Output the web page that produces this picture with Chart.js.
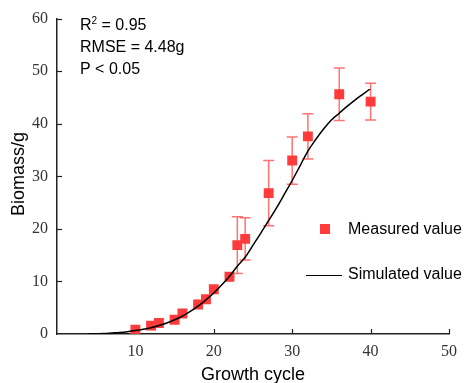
<!DOCTYPE html>
<html>
<head>
<meta charset="utf-8">
<script src="https://cdn.jsdelivr.net/npm/chart.js@4.4.1/dist/chart.umd.min.js"></script>
<style>
  html, body { margin: 0; padding: 0; background: #fff; }
  #wrap { width: 465px; height: 383px; position: relative; }
</style>
</head>
<body>
<div id="wrap"><canvas id="growthChart" width="465" height="383"></canvas></div>
<script>
// measured biomass (g) with error bars
const measuredX = [10, 12, 13, 15, 16, 18, 19, 20, 22, 23, 24, 27, 30, 32, 36, 40];
const measuredY = [0.8, 1.6, 2.1, 2.7, 3.9, 5.6, 6.6, 8.5, 10.9, 16.9, 18.1, 26.8, 33.0, 37.6, 45.6, 44.2];
const measuredErr = [0.3, 0.4, 0.4, 0.4, 0.5, 0.6, 0.6, 0.8, 0.9, 5.4, 4.0, 6.2, 4.5, 4.3, 5.0, 3.5];

// simulated curve
const simX = [4, 5, 6, 7, 8, 9, 10, 11, 12, 13, 14, 15, 16, 17, 18, 19, 20, 21, 22,
              23, 24, 25, 26, 27, 28, 29, 30, 31, 32, 33, 34, 35, 36, 37, 38, 39, 40];
const simY = [0, 0.05, 0.1, 0.2, 0.3, 0.45, 0.65, 0.9, 1.2, 1.6, 2.1, 2.7, 3.4, 4.3, 5.3, 6.5, 7.8, 9.3, 11.0,
              12.9, 14.6, 16.9, 19.2, 21.6, 24.0, 26.6, 29.2, 32.0, 34.8, 37.0, 39.0, 40.7, 42.0, 43.3, 44.5, 45.6, 46.7];

const xTicks = [0, 10, 20, 30, 40, 50];
const yTicks = [0, 10, 20, 30, 40, 50, 60];
const statLines = ['R\u00B2 = 0.95', 'RMSE = 4.48g', 'P < 0.05'];
const legendLabels = ['Measured value', 'Simulated value'];

const red = '#ff3b3b';
const redLight = 'rgba(255, 80, 80, 0.8)';
const sans = '"Liberation Sans", Arial, sans-serif';
const serif = '"Liberation Serif", "Times New Roman", serif';

let errorBars = {
    id: 'errorBars',
    beforeDatasetsDraw: function (chart) {
        let ctx = chart.ctx;
        let x = chart.scales.x, y = chart.scales.y;
        ctx.save();
        // inward tick marks
        ctx.strokeStyle = '#222';
        ctx.lineWidth = 1.2;
        xTicks.forEach(function (v) {
            if (v === 0) return;
            let px = Math.round(x.getPixelForValue(v)) + 0.5;
            ctx.beginPath();
            ctx.moveTo(px, y.bottom);
            ctx.lineTo(px, y.bottom - 5);
            ctx.stroke();
        });
        yTicks.forEach(function (v) {
            if (v === 0) return;
            let py = Math.round(y.getPixelForValue(v)) + 0.5;
            ctx.beginPath();
            ctx.moveTo(x.left, py);
            ctx.lineTo(x.left + 5, py);
            ctx.stroke();
        });
        // error bars
        ctx.strokeStyle = redLight;
        ctx.lineWidth = 1.5;
        for (let i = 0; i < measuredX.length; i++) {
            let px = x.getPixelForValue(measuredX[i]);
            let top = y.getPixelForValue(measuredY[i] + measuredErr[i]);
            let bot = y.getPixelForValue(measuredY[i] - measuredErr[i]);
            ctx.beginPath();
            ctx.moveTo(px, top);
            ctx.lineTo(px, bot);
            if (measuredErr[i] > 1) {
                ctx.moveTo(px - 5.5, top);
                ctx.lineTo(px + 5.5, top);
                ctx.moveTo(px - 5.5, bot);
                ctx.lineTo(px + 5.5, bot);
            }
            ctx.stroke();
        }
        ctx.restore();
    },
    afterDraw: function (chart) {
        let ctx = chart.ctx;
        ctx.save();
        ctx.fillStyle = '#000';
        ctx.textBaseline = 'middle';
        ctx.textAlign = 'left';
        // stats text
        ctx.font = '16px ' + sans;
        ctx.fillText('R', 80, 26);
        let rw = ctx.measureText('R').width;
        ctx.font = '10px ' + sans;
        ctx.fillText('2', 80 + rw, 21);
        let sw = ctx.measureText('2').width;
        ctx.font = '16px ' + sans;
        ctx.fillText(' = 0.95', 80 + rw + sw, 26);
        ctx.fillText(statLines[1], 80, 48);
        ctx.fillText(statLines[2], 80, 70);
        // legend
        ctx.fillStyle = red;
        ctx.fillRect(320, 224, 10, 10);
        ctx.fillStyle = '#000';
        ctx.fillText(legendLabels[0], 348, 230);
        ctx.strokeStyle = '#000';
        ctx.lineWidth = 1;
        ctx.beginPath();
        ctx.moveTo(306, 275.5);
        ctx.lineTo(342, 275.5);
        ctx.stroke();
        ctx.fillText(legendLabels[1], 348, 275);
        // axis titles
        ctx.font = '18px ' + sans;
        ctx.textAlign = 'center';
        ctx.fillText('Growth cycle', 253, 375);
        ctx.translate(19, 174);
        ctx.rotate(-Math.PI / 2);
        ctx.fillText('Biomass/g', 0, 0);
        ctx.restore();
    }
};

let ctx = document.getElementById('growthChart').getContext('2d');
window.growthChart = new Chart(ctx, {
    type: 'scatter',
    data: {
        datasets: [{
            label: legendLabels[1],
            type: 'line',
            data: simX.map(function (v, i) { return { x: v, y: simY[i] }; }),
            borderColor: '#000',
            borderWidth: 1.5,
            pointRadius: 0,
            fill: false,
            cubicInterpolationMode: 'monotone',
            order: 1
        }, {
            label: legendLabels[0],
            data: measuredX.map(function (v, i) { return { x: v, y: measuredY[i] }; }),
            backgroundColor: red,
            borderColor: red,
            borderWidth: 0,
            pointStyle: 'rect',
            pointRadius: 7,
            order: 2
        }]
    },
    options: {
        responsive: false,
        animation: false,
        layout: { padding: { left: 0, right: 15, top: 17, bottom: 0 } },
        plugins: {
            legend: { display: false },
            tooltip: { enabled: false }
        },
        scales: {
            x: {
                type: 'linear',
                min: 0,
                max: 50,
                afterFit: function (scale) { scale.height = 49; },
                afterBuildTicks: function (scale) {
                    scale.ticks = xTicks.map(function (v) { return { value: v }; });
                },
                grid: { display: false, drawTicks: false },
                border: { display: true, color: '#222', width: 1.5 },
                ticks: {
                    padding: 8,
                    color: '#333',
                    font: { family: serif, size: 16 },
                    callback: function (v) { return v === 0 ? '' : v; }
                }
            },
            y: {
                type: 'linear',
                min: 0,
                max: 60,
                afterFit: function (scale) { scale.width = 57; },
                afterBuildTicks: function (scale) {
                    scale.ticks = yTicks.map(function (v) { return { value: v }; });
                },
                grid: { display: false, drawTicks: false },
                border: { display: true, color: '#222', width: 1.5 },
                ticks: {
                    padding: 9,
                    color: '#333',
                    font: { family: serif, size: 16 }
                }
            }
        }
    },
    plugins: [errorBars]
});
</script>
</body>
</html>
